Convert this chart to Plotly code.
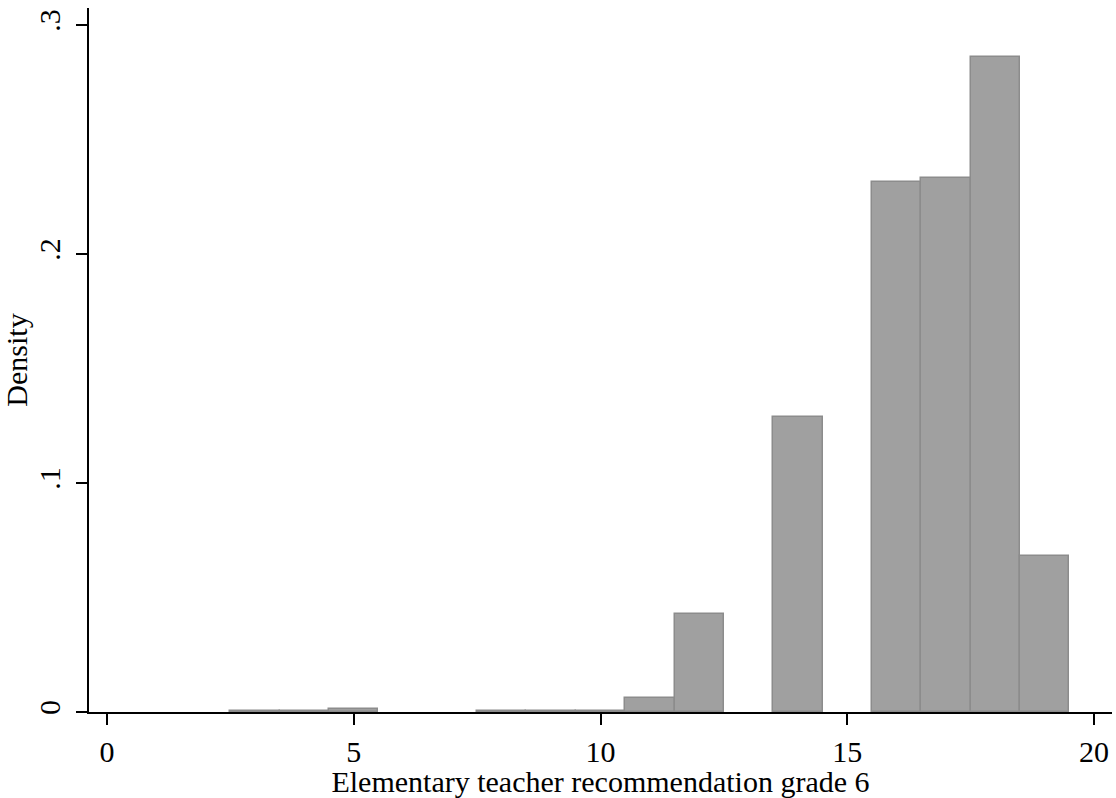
import plotly.graph_objects as go

# Histogram of teacher recommendation grades (bins of width 1, centred on integers)
grade_bins = [3, 4, 5, 8, 9, 10, 11, 12, 14, 16, 17, 18, 19]
density = [0.0006, 0.0006, 0.0013, 0.0006, 0.0006, 0.0006, 0.0062,
           0.0428, 0.1288, 0.2314, 0.2332, 0.2860, 0.0681]

x_tick_vals = [0, 5, 10, 15, 20]
x_tick_text = ["0", "5", "10", "15", "20"]
y_tick_vals = [0, 0.1, 0.2, 0.3]
y_tick_text = ["0", ".1", ".2", ".3"]

FONT = "Liberation Serif, Times New Roman, serif"
FS = 30

fig = go.Figure(
    go.Bar(
        x=grade_bins,
        y=density,
        width=1,
        marker=dict(color="#a0a0a0", line=dict(color="#8c8c8c", width=1.5)),
        hoverinfo="x+y",
    )
)

fig.update_layout(
    width=1116,
    height=798,
    margin=dict(l=89, r=4, t=8, b=86),
    paper_bgcolor="white",
    plot_bgcolor="white",
    showlegend=False,
    bargap=0,
    font=dict(family=FONT, size=FS, color="black"),
)

fig.update_xaxes(
    range=[-0.365, 20.365],
    tickvals=x_tick_vals,
    ticktext=x_tick_text,
    ticks="outside",
    ticklen=11,
    tickwidth=2,
    tickcolor="black",
    showline=True,
    linecolor="black",
    linewidth=2,
    showgrid=False,
    zeroline=False,
    ticklabelstandoff=1,
    title=dict(text="Elementary teacher recommendation grade 6",
               font=dict(family=FONT, size=FS), standoff=0),
)

fig.update_yaxes(
    range=[0, 0.3074],
    tickvals=y_tick_vals,
    ticktext=y_tick_text,
    tickangle=-90,
    ticks="outside",
    ticklen=11,
    tickwidth=2,
    tickcolor="black",
    showline=True,
    linecolor="black",
    linewidth=2,
    showgrid=False,
    zeroline=False,
    ticklabelstandoff=4,
    title=dict(text="Density", font=dict(family=FONT, size=FS), standoff=6),
)

fig.write_html("out.html")
